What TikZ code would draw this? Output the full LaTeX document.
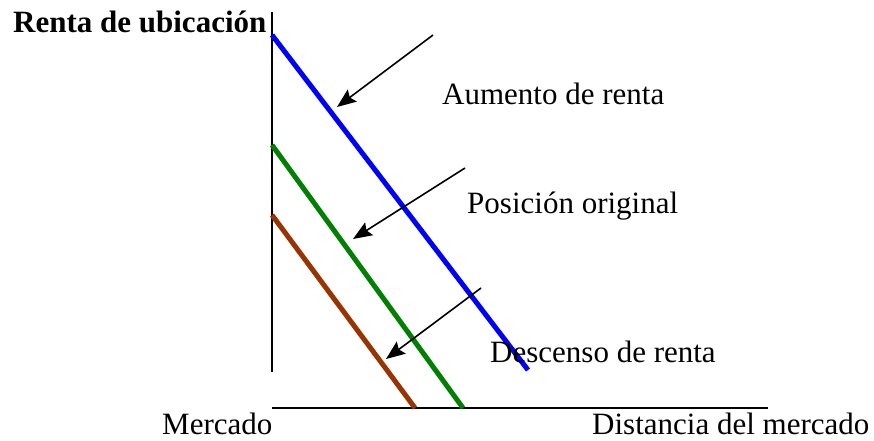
\documentclass[tikz,border=0pt]{standalone}
\usepackage{fontspec}
\setmainfont{Liberation Serif}
\usepackage{tikz}
\usetikzlibrary{arrows.meta}
\definecolor{rentBlue}{RGB}{0,0,255}
\definecolor{rentGreen}{RGB}{0,128,0}
\definecolor{rentBrown}{RGB}{153,51,0}
\tikzset{
  axisline/.style={line width=1.6pt, black},
  rentline/.style={line width=5pt},
  shiftarrow/.style={line width=1.6pt, -{Stealth[length=19pt, width=15pt, inset=3pt]}},
  lbl/.style={inner sep=0pt, anchor=base west}
}
\begin{document}
\begin{tikzpicture}[x=1pt, y=-1pt, style={line cap = butt}]
	\fontsize{31}{36}\selectfont
	\useasboundingbox (0,0) rectangle (874,440);
	% axes
	\coordinate (ytop) at (272,12);
	\coordinate (ybot) at (272,372);
	\coordinate (xleft) at (272,408);
	\coordinate (xright) at (768,408);
	\draw[axisline] (ytop) -- (ybot);
	\draw[axisline] (xleft) -- (xright);
	% rent curves
	\coordinate (upA) at (272,35);   \coordinate (upB) at (528,370);
	\coordinate (orA) at (272,145);  \coordinate (orB) at (463,408);
	\coordinate (dnA) at (272,215);  \coordinate (dnB) at (415,408);
	\draw[rentline, rentBlue] (upA) -- (upB);
	\draw[rentline, rentGreen] (orA) -- (orB);
	\draw[rentline, rentBrown] (dnA) -- (dnB);
	% labels
	\node[lbl, font=\bfseries] (ylabel) at (13,32) {Renta de ubicación};
	\node[lbl] (mkt) at (162,434) {Mercado};
	\node[lbl] (dist) at (592,434) {Distancia del mercado};
	\node[lbl] (aum) at (442,104) {Aumento de renta};
	\node[lbl] (pos) at (467,213) {Posición original};
	\node[lbl] (desc) at (490,362) {Descenso de renta};
	% arrows
	\coordinate (a1) at (433,35);  \coordinate (t1) at (337,107);
	\coordinate (a2) at (465,168); \coordinate (t2) at (353,239);
	\coordinate (a3) at (481,288); \coordinate (t3) at (386,359);
	\draw[shiftarrow] (a1) -- (t1);
	\draw[shiftarrow] (a2) -- (t2);
	\draw[shiftarrow] (a3) -- (t3);
\end{tikzpicture}
\end{document}
